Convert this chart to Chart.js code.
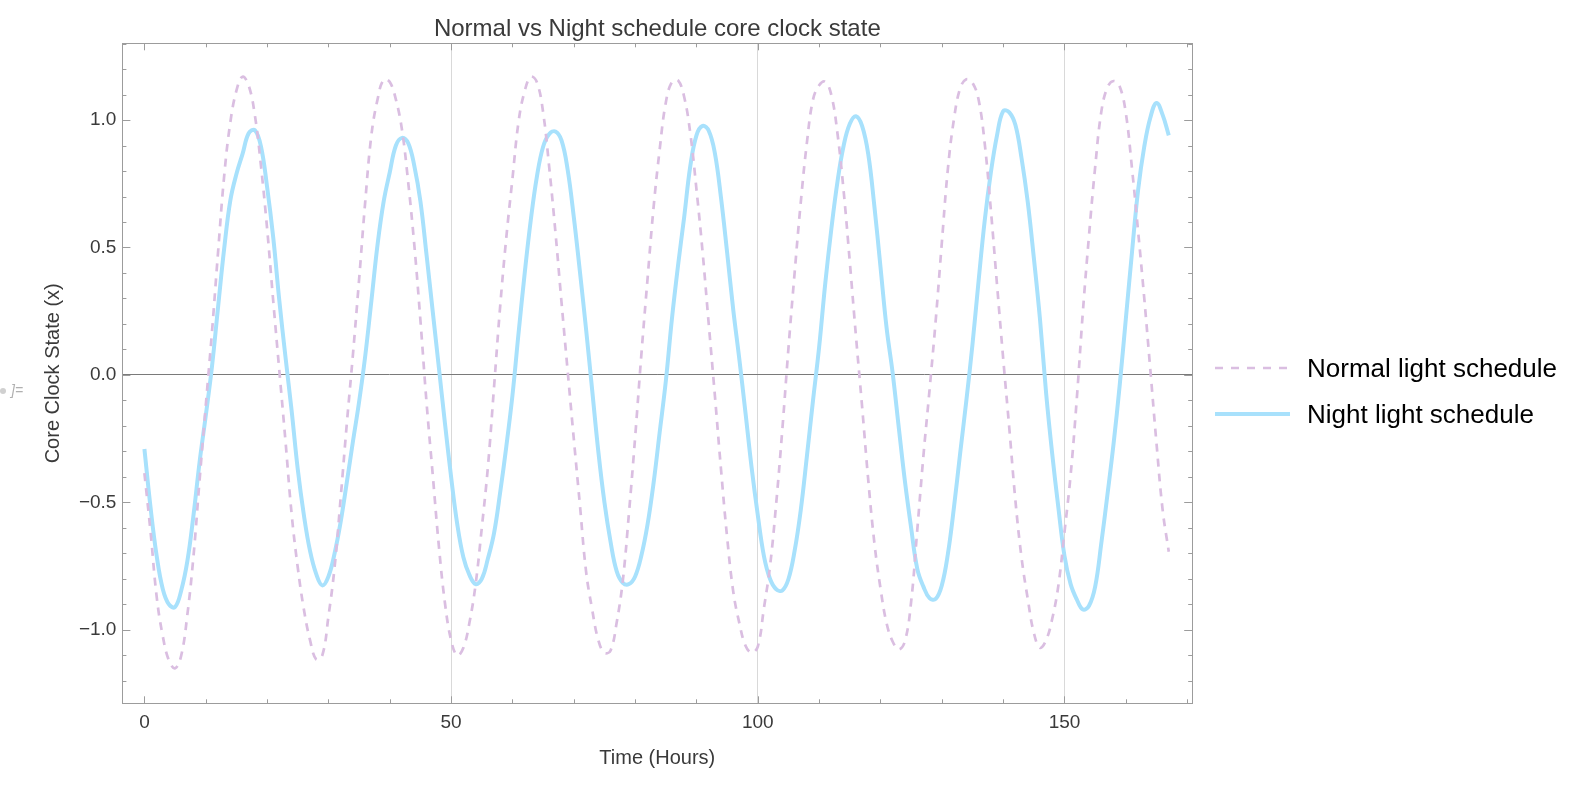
<!DOCTYPE html>
<html>
<head>
<meta charset="utf-8">
<script src="https://cdn.jsdelivr.net/npm/chart.js@4.4.1/dist/chart.umd.min.js"></script>
<style>
  html, body { margin: 0; padding: 0; background: #ffffff; }
  #wrap { width: 1578px; height: 800px; position: relative; }
  canvas { display: block; }
</style>
</head>
<body>
<div id="wrap"><canvas id="c" width="1578" height="800"></canvas></div>
<script>
// ---- Data (hourly samples) ----
const chartTitle = "Normal vs Night schedule core clock state";
const xAxisTitle = "Time (Hours)";
const yAxisTitle = "Core Clock State (x)";
const seriesNames = ["Normal light schedule", "Night light schedule"];

const hours = Array.from({ length: 168 }, (_, i) => i);

const normalSchedule = [
  -0.385, -0.615, -0.87, -1.025, -1.12, -1.15, -1.10, -0.94, -0.71, -0.41,
  -0.12, 0.165, 0.48, 0.78, 0.99, 1.115, 1.17, 1.135, 1.02, 0.82,
  0.575, 0.29, 0.015, -0.26, -0.545, -0.755, -0.92, -1.04, -1.115, -1.10,
  -0.947, -0.755, -0.48, -0.19, 0.082, 0.375, 0.68, 0.94, 1.08, 1.158,
  1.149, 1.08, 0.96, 0.756, 0.51, 0.213, -0.11, -0.39, -0.67, -0.895,
  -1.04, -1.10, -1.07, -0.97, -0.82, -0.60, -0.36, -0.047, 0.27, 0.54,
  0.77, 0.994, 1.114, 1.17, 1.147, 1.03, 0.813, 0.562, 0.285, 0.016,
  -0.25, -0.51, -0.77, -0.92, -1.04, -1.09, -1.08, -0.97, -0.805, -0.54,
  -0.245, 0.075, 0.37, 0.655, 0.884, 1.068, 1.149, 1.155, 1.09, 0.947,
  0.728, 0.482, 0.20, -0.08, -0.37, -0.637, -0.85, -0.974, -1.062, -1.089,
  -1.065, -0.914, -0.748, -0.503, -0.213, 0.106, 0.40, 0.676, 0.91, 1.08,
  1.136, 1.15, 1.097, 0.945, 0.72, 0.443, 0.153, -0.123, -0.41, -0.657,
  -0.836, -0.974, -1.046, -1.076, -1.043, -0.889, -0.607, -0.317, -0.058, 0.213,
  0.518, 0.811, 1.007, 1.125, 1.16, 1.146, 1.079, 0.906, 0.646, 0.354,
  0.066, -0.208, -0.493, -0.717, -0.876, -1.011, -1.07, -1.04, -0.956, -0.826,
  -0.616, -0.392, -0.095, 0.249, 0.548, 0.815, 1.032, 1.128, 1.153, 1.131,
  1.027, 0.811, 0.564, 0.302, 0.019, -0.268, -0.529, -0.693
];

const nightSchedule = [
  -0.29, -0.52, -0.71, -0.84, -0.90, -0.91, -0.845, -0.73, -0.55, -0.34,
  -0.16, 0.03, 0.265, 0.495, 0.684, 0.788, 0.867, 0.948, 0.96, 0.896,
  0.737, 0.539, 0.29, 0.07, -0.14, -0.37, -0.55, -0.69, -0.78, -0.825,
  -0.79, -0.70, -0.575, -0.42, -0.26, -0.105, 0.075, 0.29, 0.51, 0.68,
  0.795, 0.90, 0.93, 0.91, 0.82, 0.68, 0.47, 0.25, 0.03, -0.19,
  -0.40, -0.585, -0.715, -0.785, -0.82, -0.80, -0.72, -0.62, -0.46, -0.28,
  -0.08, 0.165, 0.40, 0.61, 0.78, 0.895, 0.945, 0.955, 0.92, 0.805,
  0.62, 0.405, 0.18, -0.06, -0.30, -0.50, -0.655, -0.77, -0.815, -0.82,
  -0.79, -0.71, -0.59, -0.425, -0.225, -0.025, 0.22, 0.43, 0.62, 0.82,
  0.94, 0.977, 0.958, 0.87, 0.695, 0.48, 0.255, 0.06, -0.15, -0.365,
  -0.55, -0.71, -0.80, -0.84, -0.845, -0.80, -0.69, -0.53, -0.32, -0.10,
  0.11, 0.36, 0.575, 0.76, 0.90, 0.985, 1.015, 0.977, 0.867, 0.663,
  0.424, 0.184, 0.005, -0.21, -0.42, -0.60, -0.76, -0.83, -0.875, -0.878,
  -0.825, -0.70, -0.515, -0.305, -0.10, 0.12, 0.37, 0.607, 0.795, 0.94,
  1.035, 1.03, 0.98, 0.85, 0.68, 0.46, 0.22, -0.07, -0.31, -0.52,
  -0.71, -0.82, -0.88, -0.92, -0.905, -0.83, -0.66, -0.47, -0.27, -0.04,
  0.22, 0.48, 0.725, 0.895, 1.01, 1.067, 1.02, 0.94
];

const xTickValues = [0, 50, 100, 150];
const yTickValues = [-1.0, -0.5, 0.0, 0.5, 1.0];
const xGridValues = [50, 100, 150];

// ---- Styles ----
const NORMAL_COLOR = 'rgb(218,190,225)';
const NIGHT_COLOR = 'rgb(168,225,252)';
const FRAME_COLOR = '#9c9c9c';
const TEXT_COLOR = '#3a3a3a';
const FONT = 'Liberation Sans, Arial, Helvetica, sans-serif';

const framePlugin = {
  id: 'framePlugin',
  afterDraw(chart) {
    const { ctx, chartArea: a, scales } = chart;
    const xs = scales.x, ys = scales.y;
    ctx.save();
    ctx.strokeStyle = FRAME_COLOR;
    ctx.lineWidth = 1;
    // minor / major ticks on all four sides (inside the frame)
    for (let v = 0; v <= 170; v += 10) {
      const px = Math.round(xs.getPixelForValue(v)) + 0.5;
      const len = (v % 50 === 0) ? 7 : 4;
      ctx.beginPath();
      ctx.moveTo(px, a.bottom); ctx.lineTo(px, a.bottom - len);
      ctx.moveTo(px, a.top); ctx.lineTo(px, a.top + len);
      ctx.stroke();
    }
    for (let k = -12; k <= 13; k++) {
      const v = k / 10;
      const py = Math.round(ys.getPixelForValue(v)) + 0.5;
      const len = (k % 5 === 0) ? 8 : 4;
      ctx.beginPath();
      ctx.moveTo(a.left, py); ctx.lineTo(a.left + len, py);
      ctx.moveTo(a.right, py); ctx.lineTo(a.right - len, py);
      ctx.stroke();
    }
    // frame
    ctx.strokeRect(Math.round(a.left) + 0.5, Math.round(a.top) + 0.5,
                   Math.round(a.right - a.left), Math.round(a.bottom - a.top));

    // legend
    const lx0 = 1215, lx1 = 1290, tx = 1307;
    const rows = [
      { y: 368, color: NORMAL_COLOR, width: 2.7, dash: [8, 8], text: seriesNames[0] },
      { y: 414, color: NIGHT_COLOR, width: 4, dash: [], text: seriesNames[1] }
    ];
    rows.forEach(r => {
      ctx.beginPath();
      ctx.setLineDash(r.dash);
      ctx.strokeStyle = r.color;
      ctx.lineWidth = r.width;
      ctx.moveTo(lx0, r.y); ctx.lineTo(lx1, r.y);
      ctx.stroke();
      ctx.setLineDash([]);
      ctx.fillStyle = '#000000';
      ctx.font = '26px ' + FONT;
      ctx.textAlign = 'left';
      ctx.textBaseline = 'middle';
      ctx.fillText(r.text, tx, r.y + 2);
    });

    // output marker at far left
    ctx.fillStyle = '#d0d0d0';
    ctx.beginPath();
    ctx.arc(3, 391, 3, 0, Math.PI * 2);
    ctx.fill();
    ctx.fillStyle = '#b0b0b0';
    ctx.font = 'italic 14px ' + FONT;
    ctx.textBaseline = 'middle';
    ctx.fillText(']=', 11, 391);
    ctx.restore();
  }
};

const fmt = v => (v < 0 ? '\u2212' : '') + Math.abs(v).toFixed(1);

new Chart(document.getElementById('c'), {
  type: 'line',
  data: {
    datasets: [
      {
        label: seriesNames[0],
        data: hours.map((h, i) => ({ x: h, y: normalSchedule[i] })),
        borderColor: NORMAL_COLOR,
        borderWidth: 2.7,
        borderDash: [8, 7],
        pointRadius: 0,
        tension: 0.4,
        fill: false
      },
      {
        label: seriesNames[1],
        data: hours.map((h, i) => ({ x: h, y: nightSchedule[i] })),
        borderColor: NIGHT_COLOR,
        borderWidth: 4,
        pointRadius: 0,
        tension: 0.4,
        fill: false
      }
    ]
  },
  options: {
    responsive: false,
    animation: false,
    devicePixelRatio: 1,
    layout: { padding: { left: 0, top: 0, right: 385.8, bottom: 0 } },
    plugins: {
      legend: { display: false },
      tooltip: { enabled: false },
      title: {
        display: true,
        text: chartTitle,
        fullSize: false,
        color: TEXT_COLOR,
        font: { family: FONT, size: 24, weight: 'normal' },
        padding: { top: 14.5, bottom: 0 }
      }
    },
    scales: {
      x: {
        type: 'linear',
        min: -3.59,
        max: 170.82,
        afterFit: s => { s.height = 96.7; },
        afterBuildTicks: s => { s.ticks = xTickValues.map(v => ({ value: v })); },
        border: { display: false },
        grid: {
          drawTicks: false,
          lineWidth: 1,
          color: c => (c.tick && xGridValues.includes(c.tick.value)) ? '#d9d9d9' : 'rgba(0,0,0,0)'
        },
        ticks: {
          padding: 8.5,
          color: TEXT_COLOR,
          font: { family: FONT, size: 19 },
          maxRotation: 0,
          callback: v => String(v)
        },
        title: {
          display: true,
          text: xAxisTitle,
          color: TEXT_COLOR,
          font: { family: FONT, size: 20 },
          padding: { top: 0, bottom: 29.5 }
        }
      },
      y: {
        type: 'linear',
        min: -1.2875,
        max: 1.3008,
        afterFit: s => { s.width = 122.4; },
        afterBuildTicks: s => { s.ticks = yTickValues.map(v => ({ value: v })); },
        border: { display: false },
        grid: {
          drawTicks: false,
          lineWidth: 1,
          color: c => (c.tick && c.tick.value === 0) ? '#7a7a7a' : 'rgba(0,0,0,0)'
        },
        ticks: {
          padding: 6,
          color: TEXT_COLOR,
          font: { family: FONT, size: 19 },
          callback: v => fmt(v)
        },
        title: {
          display: true,
          text: yAxisTitle,
          color: TEXT_COLOR,
          font: { family: FONT, size: 20 },
          padding: { top: 41, bottom: 0 }
        }
      }
    }
  },
  plugins: [framePlugin]
});
</script>
</body>
</html>
